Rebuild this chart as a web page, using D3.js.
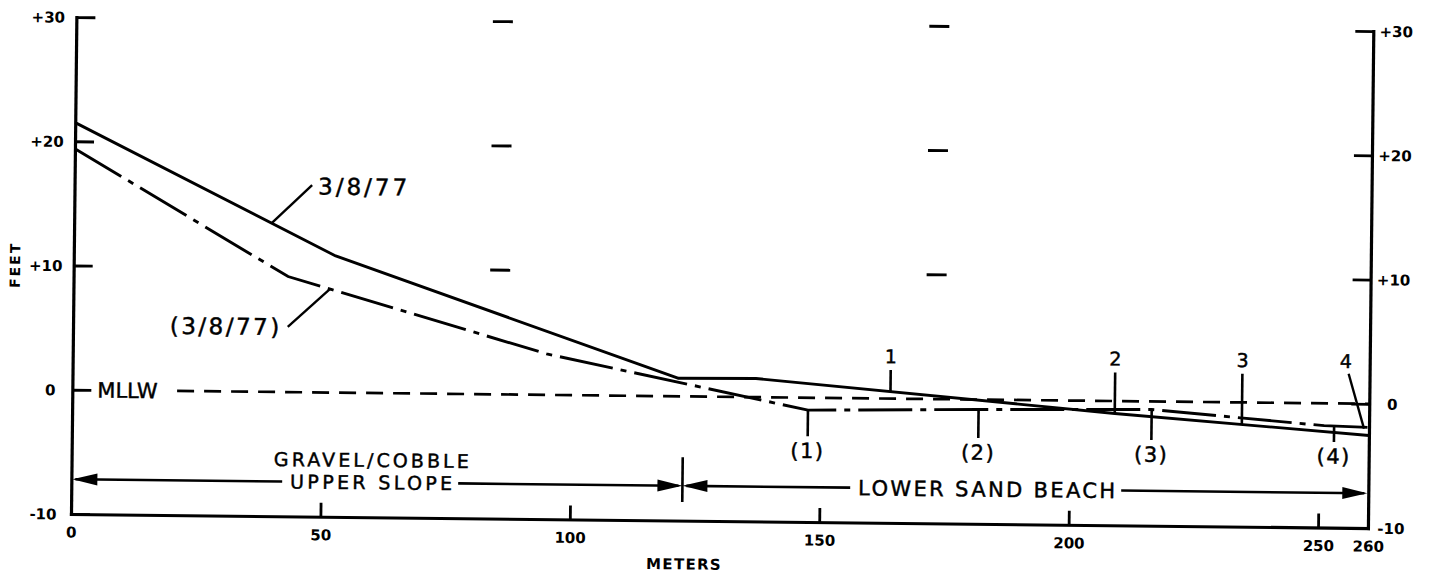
<!DOCTYPE html>
<html>
<head>
<meta charset="utf-8">
<script src="https://cdn.jsdelivr.net/npm/d3@7"></script>
<style>
  html, body { margin: 0; padding: 0; background: #fff; }
  svg { display: block; }
  text { font-family: "DejaVu Sans", sans-serif; fill: #000; }
  .lettering { stroke: #000; stroke-width: 0.45px; }
</style>
</head>
<body>
<svg id="chart" width="1433" height="574"></svg>
<script>
// Beach profile: elevation (feet, MLLW datum) against distance offshore (meters)

// ---- axis ticks ----
const distanceTicks = [0, 50, 100, 150, 200, 250, 260];
const elevationTicks = [-10, 0, 10, 20, 30];
const elevationTickLabels = ["-10", "0", "+10", "+20", "+30"];

// ---- survey profiles ----
const profileAName = "3/8/77";
const profileADistance = [0, 52.5, 121.5, 137, 209, 260];
const profileAElevation = [21.5, 11.0, 1.45, 1.5, -1.0, -2.55];

const profileBName = "(3/8/77)";
const profileBDistance = [0, 43, 95, 147.5, 181.7, 216.4, 251, 260];
const profileBElevation = [19.4, 9.3, 3.3, -1.0, -0.8, -0.65, -1.8, -1.9];

// ---- sampling stations on each profile ----
const profileAStations = [164, 209, 234.5, 259];
const profileAStationLabels = ["1", "2", "3", "4"];
const profileBStations = [147.5, 181.7, 216.4, 253];
const profileBStationLabels = ["(1)", "(2)", "(3)", "(4)"];

// ---- datum, beach zones, level marks ----
const datumLevel = 0;
const datumName = "MLLW";
const zoneBounds = [0, 122.5, 260];
const zoneNames = [["GRAVEL/COBBLE", "UPPER SLOPE"], ["LOWER SAND BEACH"]];
const levelMarkStations = [85.5, 173];
const levelMarkElevations = [10, 20, 30];

// ---- layout ----
const plotLeft = 71, plotRight = 1368, plotTop = 17, plotBottom = 514;
const tilt = 0.62; // the sheet sits slightly clockwise
const ink = "#000";

const x = d3.scaleLinear().domain([0, 260]).range([plotLeft, plotRight]);
const y = d3.scaleLinear().domain([-10, 30]).range([plotBottom, plotTop]);

const svg = d3.select("#chart");
const g = svg.append("g").attr("transform", `rotate(${tilt},${plotLeft},${plotBottom})`);

function styleAxis(sel) {
  sel.select(".domain").attr("stroke", ink).attr("stroke-width", 3.2).attr("stroke-linecap", "square");
  sel.selectAll(".tick line").attr("stroke", ink).attr("stroke-width", 2.8);
  sel.selectAll(".tick text")
    .attr("fill", ink)
    .style("font-family", '"DejaVu Sans", sans-serif')
    .style("font-size", "15px")
    .style("font-weight", "bold");
}

// left axis (ticks point into the plot, labels outside)
const leftAxis = g.append("g")
  .attr("transform", `translate(${plotLeft},0)`)
  .call(d3.axisLeft(y).tickValues(elevationTicks).tickSizeInner(-19).tickSizeOuter(0)
    .tickPadding(0).tickFormat((d, i) => elevationTickLabels[i]));
styleAxis(leftAxis);
leftAxis.selectAll(".tick text").attr("x", d => d === 0 ? -22 : -28)
  .attr("dy", "0.35em").attr("text-anchor", "middle");

// right axis
const rightAxis = g.append("g")
  .attr("transform", `translate(${plotRight},0)`)
  .call(d3.axisRight(y).tickValues(elevationTicks).tickSizeInner(-18).tickSizeOuter(0)
    .tickPadding(0).tickFormat((d, i) => elevationTickLabels[i]));
styleAxis(rightAxis);
rightAxis.selectAll(".tick text").attr("x", 23).attr("dy", "0.35em").attr("text-anchor", "middle");

// bottom axis
const bottomAxis = g.append("g")
  .attr("transform", `translate(0,${plotBottom})`)
  .call(d3.axisBottom(x).tickValues(distanceTicks).tickSizeInner(-14).tickSizeOuter(0)
    .tickPadding(0).tickFormat(d3.format("d")));
styleAxis(bottomAxis);
bottomAxis.selectAll(".tick text").attr("y", 18.3).attr("dy", "0.35em").attr("text-anchor", "middle");

// axis titles
g.append("text")
  .attr("x", x(123)).attr("y", plotBottom + 43.5).attr("dy", "0.35em")
  .attr("text-anchor", "middle")
  .style("font-size", "15px").style("font-weight", "bold").style("letter-spacing", "1.3px")
  .text("METERS");

g.append("text")
  .attr("transform", `translate(12.5,${y(10)}) rotate(-90)`)
  .attr("dy", "0.35em").attr("text-anchor", "middle")
  .style("font-size", "14px").style("font-weight", "bold").style("letter-spacing", "2px")
  .text("FEET");

// short level marks across the section
levelMarkStations.forEach(s => {
  levelMarkElevations.forEach(e => {
    g.append("line")
      .attr("x1", x(s) - 10).attr("x2", x(s) + 10)
      .attr("y1", y(e)).attr("y2", y(e))
      .attr("stroke", ink).attr("stroke-width", 2.8);
  });
});

// datum line
g.append("text").attr("class", "lettering")
  .attr("x", plotLeft + 25).attr("y", y(datumLevel)).attr("dy", "0.36em")
  .style("font-size", "21px")
  .text(datumName);
g.append("line")
  .attr("x1", x(21)).attr("x2", x(260))
  .attr("y1", y(datumLevel)).attr("y2", y(datumLevel))
  .attr("stroke", ink).attr("stroke-width", 2.7)
  .attr("stroke-dasharray", "17,10");

// profiles
const line = d3.line().x(d => x(d[0])).y(d => y(d[1]));
const profileA = d3.zip(profileADistance, profileAElevation);
const profileB = d3.zip(profileBDistance, profileBElevation);

g.append("path").datum(profileB).attr("d", line)
  .attr("fill", "none").attr("stroke", ink).attr("stroke-width", 2.9)
  .attr("stroke-dasharray", "54,8,6,8");

g.append("path").datum(profileA).attr("d", line)
  .attr("fill", "none").attr("stroke", ink).attr("stroke-width", 2.9)
  .attr("stroke-linejoin", "round");

function elevationAt(xs, ys, m) {
  for (let i = 1; i < xs.length; i++) {
    if (m <= xs[i]) {
      const t = (m - xs[i - 1]) / (xs[i] - xs[i - 1]);
      return ys[i - 1] + t * (ys[i] - ys[i - 1]);
    }
  }
  return ys[ys.length - 1];
}

// profile name labels with leaders
{
  const sx = x(39.6), sy = y(elevationAt(profileADistance, profileAElevation, 39.6));
  const ex = sx + 40, ey = sy - 38.4;
  g.append("line").attr("x1", sx).attr("y1", sy).attr("x2", ex).attr("y2", ey)
    .attr("stroke", ink).attr("stroke-width", 2.4);
  g.append("text").attr("class", "lettering").attr("x", ex + 6).attr("y", ey + 1).attr("dy", "0.36em")
    .style("font-size", "23px").style("letter-spacing", "3px")
    .text(profileAName);
}
{
  const sx = x(51.4), sy = y(elevationAt(profileBDistance, profileBElevation, 51.4));
  const ex = sx - 41.7, ey = sy + 38.3;
  g.append("line").attr("x1", sx).attr("y1", sy).attr("x2", ex).attr("y2", ey)
    .attr("stroke", ink).attr("stroke-width", 2.4);
  g.append("text").attr("class", "lettering").attr("x", ex - 6).attr("y", ey).attr("dy", "0.36em")
    .attr("text-anchor", "end")
    .style("font-size", "23px").style("letter-spacing", "2.5px")
    .text(profileBName);
}

// stations on profile A: tick up to a number
profileAStations.forEach((s, i) => {
  if (i < profileAStations.length - 1) {
    const e = elevationAt(profileADistance, profileAElevation, s);
    g.append("line").attr("x1", x(s)).attr("x2", x(s)).attr("y1", y(e)).attr("y2", y(2.3))
      .attr("stroke", ink).attr("stroke-width", 2.6);
    g.append("text").attr("class", "lettering").attr("x", x(s)).attr("y", y(3.4)).attr("dy", "0.36em")
      .attr("text-anchor", "middle").style("font-size", "19px")
      .text(profileAStationLabels[i]);
  } else {
    // last station sits against the right edge: slanted leader
    g.append("line").attr("x1", x(s - 3.2)).attr("y1", y(2.4)).attr("x2", x(s)).attr("y2", y(-2.0))
      .attr("stroke", ink).attr("stroke-width", 2.4);
    g.append("text").attr("class", "lettering").attr("x", x(s - 3.8)).attr("y", y(3.4)).attr("dy", "0.36em")
      .attr("text-anchor", "middle").style("font-size", "19px")
      .text(profileAStationLabels[i]);
  }
});

// stations on profile B: tick down to a bracketed number
profileBStations.forEach((s, i) => {
  const e = elevationAt(profileBDistance, profileBElevation, s);
  g.append("line").attr("x1", x(s)).attr("x2", x(s)).attr("y1", y(e)).attr("y2", y(-3.1))
    .attr("stroke", ink).attr("stroke-width", 2.6);
  g.append("text").attr("class", "lettering").attr("x", x(s)).attr("y", y(-4.25)).attr("dy", "0.36em")
    .attr("text-anchor", "middle").style("font-size", "21px").style("letter-spacing", "1.5px")
    .text(profileBStationLabels[i]);
});

// beach zones with arrows
const arrowY = y(-7.2);
const zoneLabelAt = [60.1, 183.5];
const zoneLabelWidth = [[195, 162], [257]];
const zoneLineGap = 22.3;
function arrowHead(tipX, dir) {
  // dir = -1 points left, +1 points right
  const len = 25, half = 6;
  g.append("path")
    .attr("d", `M${tipX},${arrowY}L${tipX - dir * len},${arrowY - half}L${tipX - dir * len},${arrowY + half}Z`)
    .attr("fill", ink);
}
zoneNames.forEach((names, zi) => {
  const x0 = x(zoneBounds[zi]), x1 = x(zoneBounds[zi + 1]);
  const cx = x(zoneLabelAt[zi]);
  const widths = zoneLabelWidth[zi];
  const onLine = names.length - 1; // last line of the name sits on the arrow
  names.forEach((n, k) => {
    g.append("text").attr("class", "lettering")
      .attr("x", cx - widths[k] / 2)
      .attr("y", arrowY - (onLine - k) * zoneLineGap)
      .attr("dy", "0.36em")
      .attr("textLength", widths[k]).attr("lengthAdjust", "spacing")
      .style("font-size", zi === 0 ? "19px" : "21px")
      .text(n);
  });
  const w = widths[onLine];
  g.append("line").attr("x1", x0 + 4).attr("x2", cx - w / 2 - 8).attr("y1", arrowY).attr("y2", arrowY)
    .attr("stroke", ink).attr("stroke-width", 2.6);
  g.append("line").attr("x1", cx + w / 2 + 6).attr("x2", x1 - 4).attr("y1", arrowY).attr("y2", arrowY)
    .attr("stroke", ink).attr("stroke-width", 2.6);
  arrowHead(x0 + (zi === 0 ? 1 : 0), -1);
  arrowHead(x1 - (zi === zoneNames.length - 1 ? 1 : 0), 1);
});
// zone boundary
g.append("line")
  .attr("x1", x(zoneBounds[1])).attr("x2", x(zoneBounds[1]))
  .attr("y1", y(-4.9)).attr("y2", y(-8.5))
  .attr("stroke", ink).attr("stroke-width", 2.6);
</script>
</body>
</html>
